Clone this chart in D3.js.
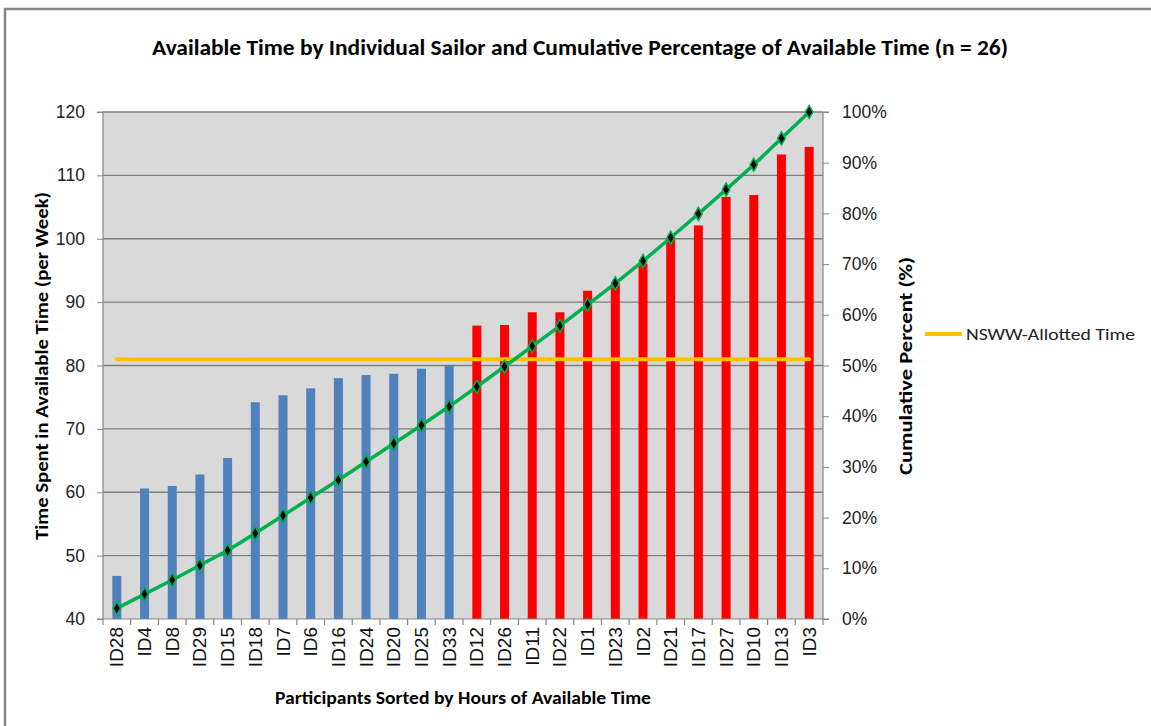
<!DOCTYPE html>
<html>
<head>
<meta charset="utf-8">
<script src="https://cdn.jsdelivr.net/npm/d3@7"></script>
<style>
  html, body { margin: 0; padding: 0; background: #fff; }
  svg { display: block; }
</style>
</head>
<body>
<svg id="chart" width="1151" height="726"></svg>
<script>
const categories = ["ID28","ID4","ID8","ID29","ID15","ID18","ID7","ID6","ID16","ID24","ID20","ID25","ID33",
  "ID12","ID26","ID11","ID22","ID1","ID23","ID2","ID21","ID17","ID27","ID10","ID13","ID3"];
const hours = [46.8,60.6,61.0,62.8,65.4,74.2,75.3,76.4,78.0,78.5,78.7,79.5,80.0,
  86.3,86.4,88.4,88.4,91.8,92.8,96.1,99.9,102.1,106.6,106.9,113.3,114.5];
const aboveAllotted = [0,0,0,0,0,0,0,0,0,0,0,0,0,1,1,1,1,1,1,1,1,1,1,1,1,1];
const cumulativePct = [2.1,4.9,7.7,10.6,13.5,16.9,20.4,23.9,27.4,31.0,34.6,38.2,41.9,
  45.8,49.8,53.8,57.8,62.0,66.2,70.6,75.2,79.9,84.7,89.6,94.8,100];
const allottedTime = 81;
const leftTicks = [40,50,60,70,80,90,100,110,120];
const rightTicks = [0,10,20,30,40,50,60,70,80,90,100];

const title = "Available Time by Individual Sailor and Cumulative Percentage of Available Time (n = 26)";
const xTitle = "Participants Sorted by Hours of Available Time";
const yTitle = "Time Spent in Available Time (per Week)";
const y2Title = "Cumulative Percent (%)";
const legendLabel = "NSWW-Allotted Time";

const svg = d3.select("#chart");
const font = "Calibri, Carlito, 'Open Sans', 'Liberation Sans', sans-serif";
const tickFont = "'Liberation Sans', Arial, sans-serif";

const plot = {left: 103, right: 823, top: 112, bottom: 619};

// outer frame
svg.append("path").attr("d", `M5,726 L5,9 L1151,9`).attr("fill","none")
  .attr("stroke","#868686").attr("stroke-width",2.5);

const x = d3.scaleBand().domain(categories).range([plot.left, plot.right]).paddingInner(0).paddingOuter(0);
const y = d3.scaleLinear().domain([40,120]).range([plot.bottom, plot.top]);
const y2 = d3.scaleLinear().domain([0,100]).range([plot.bottom, plot.top]);

// plot background
svg.append("rect").attr("x", plot.left).attr("y", plot.top)
  .attr("width", plot.right-plot.left).attr("height", plot.bottom-plot.top).attr("fill","#D9D9D9");

// gridlines
svg.append("g").selectAll("line").data(leftTicks.filter(d=>d>40)).join("line")
  .attr("x1", plot.left).attr("x2", plot.right)
  .attr("y1", d=>y(d)).attr("y2", d=>y(d))
  .attr("stroke","#7f7f7f").attr("stroke-width",1.3);

// bars
const barW = 9;
svg.append("g").selectAll("rect").data(categories).join("rect")
  .attr("x", d=>x(d)+x.bandwidth()/2-barW/2)
  .attr("width", barW)
  .attr("y", (d,i)=>y(hours[i]))
  .attr("height", (d,i)=>y(40)-y(hours[i]))
  .attr("fill", (d,i)=> aboveAllotted[i] ? "#FF0000" : "#4F81BD");

// left axis
const yAxis = d3.axisLeft(y).tickValues(leftTicks).tickSize(6).tickPadding(12).tickFormat(d3.format("d"));
const gy = svg.append("g").attr("transform",`translate(${plot.left},0)`).call(yAxis);
gy.select(".domain").attr("stroke","#868686").attr("stroke-width",1.2).attr("d",`M-6,${plot.top}H0V${plot.bottom}H-6`);
gy.selectAll(".tick line").attr("stroke","#868686");
gy.selectAll(".tick text").attr("font-family",tickFont).attr("font-size",17.5).attr("fill","#222");

// right axis
const y2Axis = d3.axisRight(y2).tickValues(rightTicks).tickSize(6).tickPadding(13).tickFormat(d=>d+"%");
const gy2 = svg.append("g").attr("transform",`translate(${plot.right},0)`).call(y2Axis);
gy2.select(".domain").attr("stroke","#868686").attr("stroke-width",1.2).attr("d",`M6,${plot.top}H0V${plot.bottom}H6`);
gy2.selectAll(".tick line").attr("stroke","#868686");
gy2.selectAll(".tick text").attr("font-family",tickFont).attr("font-size",17.5).attr("fill","#222");

// x axis: baseline + boundary ticks
svg.append("line").attr("x1",plot.left).attr("x2",plot.right).attr("y1",plot.bottom).attr("y2",plot.bottom)
  .attr("stroke","#868686").attr("stroke-width",1.2);
const boundaries = categories.map(c=>x(c)).concat([plot.right]);
svg.append("g").selectAll("line").data(boundaries).join("line")
  .attr("x1",d=>d).attr("x2",d=>d).attr("y1",plot.bottom).attr("y2",plot.bottom+6)
  .attr("stroke","#868686").attr("stroke-width",1.2);
svg.append("g").selectAll("text").data(categories).join("text")
  .attr("transform", d=>`translate(${x(d)+x.bandwidth()/2+6.5},${plot.bottom+8}) rotate(-90)`)
  .attr("text-anchor","end")
  .attr("font-family",tickFont).attr("font-size",19).attr("fill","#111")
  .text(d=>d);

// allotted time line
svg.append("line")
  .attr("x1", x(categories[0])+x.bandwidth()/2).attr("x2", x(categories[categories.length-1])+x.bandwidth()/2)
  .attr("y1", y(allottedTime)).attr("y2", y(allottedTime))
  .attr("stroke","#FFC000").attr("stroke-width",4).attr("stroke-linecap","round");

// cumulative line
const line = d3.line().x((d,i)=>x(categories[i])+x.bandwidth()/2).y(d=>y2(d));
svg.append("path").datum(cumulativePct).attr("d", line)
  .attr("fill","none").attr("stroke","#00B050").attr("stroke-width",3.5).attr("stroke-linejoin","round");
const diamond = d3.symbol().type(d3.symbolDiamond).size(50);
svg.append("g").selectAll("path").data(cumulativePct).join("path")
  .attr("transform",(d,i)=>`translate(${x(categories[i])+x.bandwidth()/2},${y2(d)})`)
  .attr("d", diamond)
  .attr("fill","#000").attr("stroke","#00B050").attr("stroke-width",1.5);

// titles
svg.append("text").attr("x",580).attr("y",55).attr("text-anchor","middle")
  .attr("font-family",font).attr("font-size",22).attr("font-weight","bold").attr("fill","#000")
  .attr("textLength",856).attr("lengthAdjust","spacingAndGlyphs")
  .text(title);
svg.append("text").attr("x",463).attr("y",704).attr("text-anchor","middle")
  .attr("font-family",font).attr("font-size",18).attr("font-weight","bold").attr("fill","#000")
  .attr("textLength",376).attr("lengthAdjust","spacingAndGlyphs")
  .text(xTitle);
svg.append("text").attr("transform","translate(48,366) rotate(-90)").attr("text-anchor","middle")
  .attr("font-family",font).attr("font-size",18).attr("font-weight","bold").attr("fill","#000")
  .attr("textLength",348).attr("lengthAdjust","spacingAndGlyphs")
  .text(yTitle);
svg.append("text").attr("transform","translate(912,366) rotate(-90)").attr("text-anchor","middle")
  .attr("font-family",font).attr("font-size",18).attr("font-weight","bold").attr("fill","#000")
  .attr("textLength",218).attr("lengthAdjust","spacingAndGlyphs")
  .text(y2Title);

// legend
svg.append("line").attr("x1",925).attr("x2",962).attr("y1",334).attr("y2",334)
  .attr("stroke","#FFC000").attr("stroke-width",4);
svg.append("text").attr("x",966).attr("y",340)
  .attr("font-family",font).attr("font-size",17).attr("fill","#222")
  .attr("textLength",169).attr("lengthAdjust","spacingAndGlyphs")
  .text(legendLabel);
</script>
</body>
</html>
